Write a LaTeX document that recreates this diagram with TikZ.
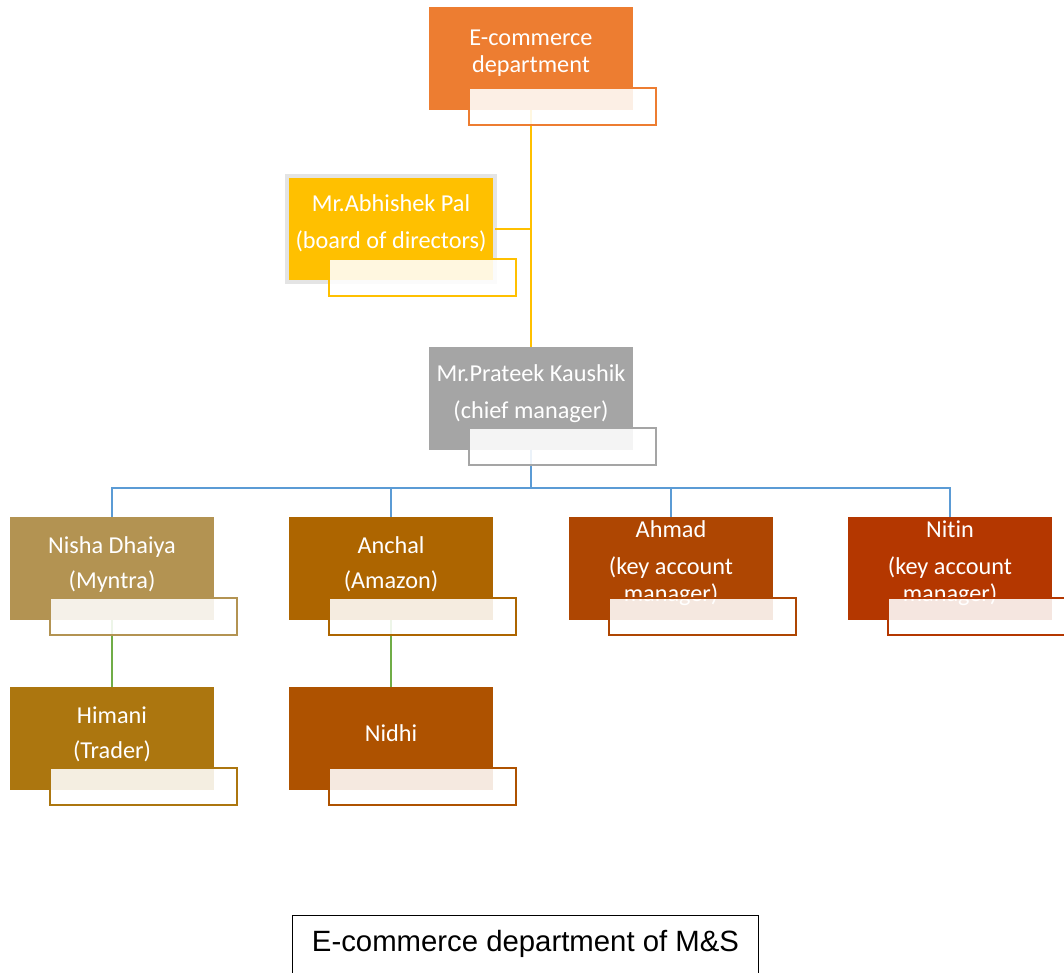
\documentclass[tikz,border=0pt]{standalone}
\usepackage{fontspec}
\setmainfont{Carlito}[Ligatures=NoCommon]
\newfontfamily\capfont{Liberation Sans}
\definecolor{cOrange}{HTML}{ED7D31}
\definecolor{cYellow}{HTML}{FFC000}
\definecolor{cGrey}{HTML}{A5A5A5}
\definecolor{cShadow}{HTML}{E4E4E4}
\definecolor{cNisha}{HTML}{B39352}
\definecolor{cAnchal}{HTML}{AD6500}
\definecolor{cAhmad}{HTML}{AE4602}
\definecolor{cNitin}{HTML}{B43700}
\definecolor{cHimani}{HTML}{AC760F}
\definecolor{cNidhi}{HTML}{AE5200}
\definecolor{cBlue}{HTML}{5B9BD5}
\definecolor{cGreen}{HTML}{70AD47}
\begin{document}
\begin{tikzpicture}[x=0.75pt,y=-0.75pt,
  every node/.style={inner sep=0pt, outer sep=0pt},
  mainbox/.style={minimum width=153pt, minimum height=77.25pt, anchor=north west, fill=#1},
  accentbox/.style={draw=#1, line width=1.7pt, fill=white, fill opacity=0.88,
                    minimum width=140pt, minimum height=27.5pt, anchor=north west},
  lbl/.style={text=white, align=center, font=\fontsize{18.2}{20.25}\selectfont},
  yline/.style={draw=cYellow, line width=1.5pt},
  bline/.style={draw=cBlue, line width=1.5pt},
  gline/.style={draw=cGreen, line width=1.5pt}
]
\useasboundingbox (0,0) rectangle (1064,973);

% main boxes
\node[mainbox=cOrange] (ecom) at (429,7) {};
\node[mainbox=cYellow, draw=cShadow, line width=3.4pt,
      minimum width=156pt, minimum height=79.5pt] (abhi) at (287,176) {};
\node[mainbox=cGrey] (prat) at (429,347) {};
\node[mainbox=cNisha] (nisha) at (10,517) {};
\node[mainbox=cAnchal] (anchal) at (289,517) {};
\node[mainbox=cAhmad] (ahmad) at (569,517) {};
\node[mainbox=cNitin] (nitin) at (848,517) {};
\node[mainbox=cHimani] (himani) at (10,687) {};
\node[mainbox=cNidhi] (nidhi) at (289,687) {};

% texts
\node[lbl] (ecom-t) at (531,53) {E-commerce\\department};
\node[lbl] (abhi-t) at (391,223.5) {Mr.Abhishek Pal\\[7.5pt](board of directors)};
\node[lbl] (prat-t) at (531,393.5) {Mr.Prateek Kaushik\\[7.5pt](chief manager)};
\node[lbl] (nisha-t) at (112,564.5) {Nisha Dhaiya\\[6pt](Myntra)};
\node[lbl] (anchal-t) at (391,564.5) {Anchal\\[6pt](Amazon)};
\node[lbl] (ahmad-t) at (671,563.5) {Ahmad\\[7.5pt](key account\\manager)};
\node[lbl] (nitin-t) at (950,563.5) {Nitin\\[7.5pt](key account\\manager)};
\node[lbl] (himani-t) at (112,734.5) {Himani\\[6pt](Trader)};
\node[lbl] (nidhi-t) at (391,733) {Nidhi};

% connectors
\draw[yline] (ecom.south) -- (prat.north);
\draw[yline] (abhi.east) -- (abhi.east -| ecom.south);
\coordinate (bus) at (531,488);
\draw[bline] (prat.south) -- (bus);
\draw[bline] (bus) -| (nisha.north);
\draw[bline] (bus) -| (anchal.north);
\draw[bline] (bus) -| (ahmad.north);
\draw[bline] (bus) -| (nitin.north);
\draw[gline] (nisha.south) -- (himani.north);
\draw[gline] (anchal.south) -- (nidhi.north);

% accent boxes
\node[accentbox=cOrange] (ecom-a) at (469,88) {};
\node[accentbox=cYellow] (abhi-a) at (329,259) {};
\node[accentbox=cGrey] (prat-a) at (469,428) {};
\node[accentbox=cNisha] (nisha-a) at (50,598) {};
\node[accentbox=cAnchal] (anchal-a) at (329,598) {};
\node[accentbox=cAhmad] (ahmad-a) at (609,598) {};
\node[accentbox=cNitin] (nitin-a) at (888,598) {};
\node[accentbox=cHimani] (himani-a) at (50,768) {};
\node[accentbox=cNidhi] (nidhi-a) at (329,768) {};

% caption
\node[draw=black, line width=0.9pt, anchor=north west,
      minimum width=349.5pt, minimum height=60pt] (cap) at (292.5,915.5) {};
\node[font=\capfont\fontsize{22}{26}\selectfont] (cap-t) at (525.5,944) {E-commerce department of M\&S};
\end{tikzpicture}
\end{document}
